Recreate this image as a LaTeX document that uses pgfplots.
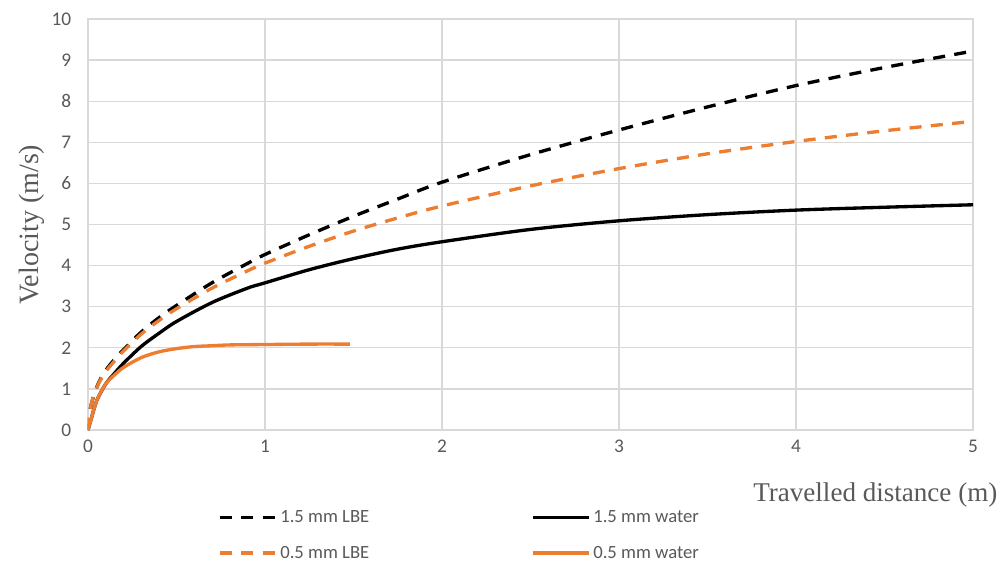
\documentclass[border=0pt]{standalone}
\usepackage{pgfplots}
\pgfplotsset{compat=1.18}
\usepackage{fontspec}
\setmainfont{Liberation Serif}
\newfontfamily\calfont{Carlito}
\definecolor{exorange}{HTML}{ED7D31}
\definecolor{gridgray}{HTML}{D9D9D9}
\definecolor{txtgray}{HTML}{595959}
\begin{document}
\begin{tikzpicture}
\path[use as bounding box] (0pt,0pt) rectangle (754.5pt,423.75pt);
\begin{axis}[
  at={(66pt,101.25pt)}, anchor=south west,
  width=663.75pt, height=308.25pt, scale only axis,
  xmin=0, xmax=5, ymin=0, ymax=10,
  xtick={0,1,2,3,4,5}, ytick={0,1,2,3,4,5,6,7,8,9,10},
  grid=major, major grid style={draw=gridgray, line width=1pt},
  axis line style={draw=gridgray, line width=1pt},
  major tick length=0pt,
  /pgf/number format/assume math mode=true,
  ticklabel style={font=\calfont\fontsize{14.5}{16}\selectfont, text=txtgray},
  xticklabel style={yshift=-4pt},
  yticklabel style={xshift=-9pt},
  xlabel={Travelled distance (m)},
  ylabel={Velocity (m/s)},
  label style={text=txtgray},
  xlabel style={font=\fontsize{20.3}{22}\selectfont, at={(rel axis cs:1.0328,-0.175)}, anchor=base east},
  ylabel style={font=\fontsize{21}{23}\selectfont, at={(rel axis cs:-0.0554,0.5)}, anchor=base},
  legend columns=2,
  legend style={at={(rel axis cs:0.1424,-0.1825)}, anchor=north west, draw=none, fill=none,
    font=\calfont\fontsize{14}{16}\selectfont, text=txtgray, row sep=12pt,
    /tikz/every even column/.append style={column sep=119.5pt}},
  legend cell align=left,
  legend image code/.code={\draw[#1] (0pt,0pt) -- (42pt,0pt);},
  every axis plot/.append style={line width=2.5pt, smooth, line join=round},
]
\addplot[black, dash pattern=on 9pt off 7pt] coordinates {
(0,0) (0.01,0.45) (0.03,0.8) (0.06,1.15) (0.1,1.45) (0.15,1.72) (0.2,1.95) (0.3,2.38) (0.4,2.73) (0.5,3.03) (0.7,3.58) (0.9,4.05) (1.0,4.27) (1.25,4.75) (1.5,5.2) (1.75,5.62) (2.0,6.03) (2.5,6.7) (3.0,7.3) (3.5,7.86) (4.0,8.38) (4.5,8.82) (5.0,9.22)};
\addlegendentry{1.5 mm LBE}
\addplot[black] coordinates {
(0,0) (0.02,0.3) (0.05,0.72) (0.1,1.12) (0.15,1.38) (0.2,1.62) (0.3,2.03) (0.4,2.35) (0.5,2.64) (0.7,3.1) (0.9,3.45) (1.0,3.58) (1.25,3.9) (1.5,4.17) (1.75,4.4) (2.0,4.58) (2.5,4.88) (3.0,5.09) (3.5,5.24) (4.0,5.35) (4.5,5.42) (5.0,5.48)};
\addlegendentry{1.5 mm water}
\addplot[exorange, dash pattern=on 9pt off 7pt] coordinates {
(0,0) (0.01,0.45) (0.03,0.8) (0.06,1.13) (0.1,1.42) (0.15,1.68) (0.2,1.92) (0.3,2.33) (0.4,2.66) (0.5,2.95) (0.7,3.45) (0.9,3.87) (1.0,4.06) (1.25,4.47) (1.5,4.84) (1.75,5.16) (2.0,5.45) (2.5,5.94) (3.0,6.36) (3.5,6.72) (4.0,7.02) (4.5,7.28) (5.0,7.51)};
\addlegendentry{0.5 mm LBE}
\addplot[exorange] coordinates {
(0,0) (0.02,0.3) (0.05,0.72) (0.1,1.12) (0.15,1.34) (0.2,1.52) (0.3,1.76) (0.4,1.9) (0.5,1.98) (0.6,2.03) (0.7,2.05) (0.8,2.07) (1.0,2.08) (1.25,2.09) (1.48,2.09)};
\addlegendentry{0.5 mm water}
\end{axis}
\end{tikzpicture}
\end{document}
